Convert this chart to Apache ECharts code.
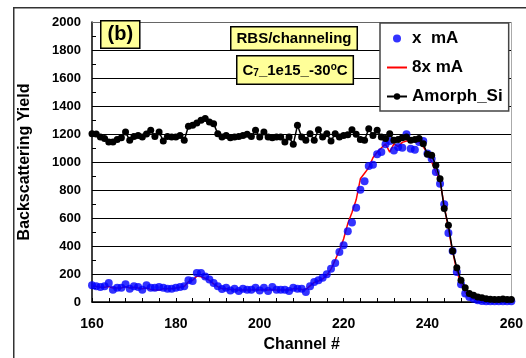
<!DOCTYPE html>
<html>
<head>
<meta charset="utf-8">
<script src="https://cdn.jsdelivr.net/npm/echarts@6/dist/echarts.min.js"></script>
<style>
  html, body { margin: 0; padding: 0; background: #fff; }
  #rbs { width: 526px; height: 358px; background: #fff; }
</style>
</head>
<body>
<div id="rbs"></div>
<script>
// channel numbers (x)
var channels = [
  160,161,162,163,164,165,166,167,168,169,
  170,171,172,173,174,175,176,177,178,179,
  180,181,182,183,184,185,186,187,188,189,
  190,191,192,193,194,195,196,197,198,199,
  200,201,202,203,204,205,206,207,208,209,
  210,211,212,213,214,215,216,217,218,219,
  220,221,222,223,224,225,226,227,228,229,
  230,231,232,233,234,235,236,237,238,239,
  240,241,242,243,244,245,246,247,248,249,
  250,251,252,253,254,255,256,257,258,259,260
];

// x mA (blue dots)
var xmA = [
  119,112,107,112,136,88,102,102,126,95,
  112,107,88,119,102,102,107,102,95,95,
  102,107,112,155,150,207,207,183,160,136,
  112,93,102,83,95,79,95,88,88,102,
  83,102,79,107,88,88,88,79,102,95,
  95,71,112,143,155,174,198,238,279,357,
  405,505,567,674,802,862,971,981,1055,1071,
  1126,1150,1083,1107,1102,1198,1095,1088,1143,1150,
  1060,1024,929,845,698,493,364,214,126,60,
  36,24,12,7,5,5,5,5,5,5,5
];

// 8x mA (red line)
var x8mA = [
  115,110,105,105,110,100,100,100,110,100,
  105,100,95,100,90,85,85,95,95,95,
  100,105,110,145,155,185,180,170,155,130,
  110,95,95,90,90,85,85,85,85,90,
  85,90,85,90,85,85,85,85,95,95,
  90,90,115,140,150,165,190,235,300,370,
  450,560,640,730,880,920,960,1030,1070,1100,
  1130,1070,1130,1110,1140,1150,1150,1150,1140,1110,
  1060,1000,930,860,690,520,360,220,130,70,
  40,20,12,8,8,8,8,8,8,8,8
];

// Amorph_Si (black line + dots)
var amorphSi = [
  1202,1200,1178,1167,1143,1143,1160,1174,1214,1155,
  1183,1190,1178,1200,1226,1183,1214,1150,1183,1178,
  1178,1190,1155,1255,1262,1278,1298,1310,1286,1274,
  1202,1178,1190,1174,1178,1183,1190,1198,1183,1226,
  1178,1214,1178,1174,1178,1178,1143,1178,1126,1262,
  1178,1155,1202,1155,1231,1178,1202,1150,1202,1178,
  1190,1195,1231,1198,1160,1155,1238,1190,1226,1178,
  1167,1202,1155,1160,1174,1178,1155,1160,1167,1131,
  1055,1048,976,881,667,548,364,245,155,102,
  60,48,36,31,24,19,17,17,21,17,17
];

// horizontal grid lines of the plot
var gridValues = [200, 400, 600, 800, 1000, 1200, 1400, 1600, 1800];

var seriesNames = ['x  mA', '8x mA', 'Amorph_Si'];

function pairs(ys) {
  return channels.map(function (c, i) { return [c, ys[i]]; });
}

var chart = echarts.init(document.getElementById('rbs'));
var font = 'Arial, "Liberation Sans", sans-serif';

var boxStyle = {
  fill: '#000',
  fontFamily: font,
  fontWeight: 'bold',
  backgroundColor: '#ffff99',
  borderColor: '#000',
  borderWidth: 1.5
};

var plainLabel = function (v) { return String(v); };
var tickStyle = { show: true, inside: true, length: 4, lineStyle: { color: '#000', width: 1 } };

// helper axis that only draws ticks
function helperAxis(extra) {
  return Object.assign({
    type: 'value',
    axisLine: { show: false },
    axisTick: { show: false },
    axisLabel: { show: false },
    splitLine: { show: false }
  }, extra);
}

var gridLines = gridValues.map(function (v) { return { yAxis: v }; });
gridLines.push({ yAxis: 2000, lineStyle: { color: '#666' } });
gridLines.push({ xAxis: 260, lineStyle: { color: '#aaa' } });

chart.setOption({
  animation: false,
  grid: { left: 92, right: 10, top: 22, bottom: 56 },
  legend: {
    data: [
      { name: seriesNames[0] },
      { name: seriesNames[1], itemStyle: { color: 'rgba(0,0,0,0)', borderWidth: 0 } },
      { name: seriesNames[2] }
    ],
    orient: 'vertical',
    left: 380, top: 23,
    padding: [7, 6, 6, 6],
    itemWidth: 20, itemHeight: 8, itemGap: 12,
    backgroundColor: '#fff',
    borderColor: '#444', borderWidth: 1.5, borderRadius: 0,
    textStyle: { fontFamily: font, fontWeight: 'bold', fontSize: 17, color: '#000' }
  },
  xAxis: [{
    type: 'value', min: 160, max: 260, interval: 20, position: 'bottom',
    name: 'Channel #', nameLocation: 'middle', nameGap: 35,
    nameTextStyle: { fontFamily: font, fontWeight: 'bold', fontSize: 16, color: '#000' },
    axisLine: { show: true, lineStyle: { color: '#000', width: 1.5 } },
    axisTick: tickStyle,
    axisLabel: { fontFamily: font, fontWeight: 'bold', fontSize: 14, color: '#000', margin: 15, formatter: plainLabel },
    splitLine: { show: false }
  },
  helperAxis({ min: 160, max: 260, interval: 4, position: 'bottom', axisTick: tickStyle })
  ],
  yAxis: [{
    type: 'value', min: 0, max: 2000, interval: 200, position: 'left',
    name: 'Backscattering Yield', nameLocation: 'middle', nameGap: 59,
    nameTextStyle: { fontFamily: font, fontWeight: 'bold', fontSize: 16, color: '#000' },
    axisLine: { show: true, lineStyle: { color: '#000', width: 1.5 } },
    axisTick: tickStyle,
    axisLabel: { fontFamily: font, fontWeight: 'bold', fontSize: 13, color: '#000', margin: 11, formatter: plainLabel },
    splitLine: { show: true, lineStyle: { color: '#000', width: 1 } }
  },
  helperAxis({ min: 0, max: 2000, interval: 100, position: 'left', axisTick: tickStyle })
  ],
  graphic: [
    // outer frame
    { type: 'rect', left: 13, top: 7, z: -10, silent: true,
      shape: { width: 530, height: 370 },
      style: { fill: 'transparent', stroke: '#333', lineWidth: 1.5 } },
    { type: 'text', left: 100, top: 20, z: 10,
      style: Object.assign({ text: '(b)', fontSize: 20, padding: [3, 6, 3, 6] }, boxStyle) },
    { type: 'text', left: 230, top: 26, z: 10,
      style: Object.assign({ text: 'RBS/channeling', fontSize: 15, padding: [4, 5, 3, 5] }, boxStyle) },
    { type: 'text', left: 236, top: 55, z: 10,
      style: Object.assign({
        text: '{m|C}{s|7}{m|_1e15_-30}{u|o}{m|C}', padding: [6, 5, 5, 5],
        rich: {
          m: { fontSize: 15, fontWeight: 'bold', fontFamily: font },
          s: { fontSize: 10, fontWeight: 'bold', fontFamily: font, verticalAlign: 'bottom', padding: [6, 0, 0, 0] },
          u: { fontSize: 10, fontWeight: 'bold', fontFamily: font, verticalAlign: 'top', padding: [0, 0, 6, 0] }
        }
      }, boxStyle) }
  ],
  series: [
    {
      name: seriesNames[1], type: 'line', data: pairs(x8mA),
      symbol: 'none', lineStyle: { color: '#ff0000', width: 1.5 }, itemStyle: { color: '#ff0000' }, z: 2,
      // grid lines and plot border drawn through the axes' scales
      markLine: {
        silent: true, symbol: ['none', 'none'], animation: false, z: 1,
        label: { show: false },
        emphasis: { disabled: true },
        lineStyle: { color: '#000', width: 1, type: 'solid', opacity: 1 },
        data: gridLines
      }
    },
    {
      name: seriesNames[0], type: 'scatter', data: pairs(xmA),
      symbol: 'circle', symbolSize: 8, itemStyle: { color: '#0000ff' }, z: 3
    },
    {
      name: seriesNames[2], type: 'line', data: pairs(amorphSi),
      symbol: 'circle', symbolSize: 7, showAllSymbol: true,
      lineStyle: { color: '#000', width: 1.5 }, itemStyle: { color: '#000' }, z: 4
    }
  ]
});
</script>
</body>
</html>
